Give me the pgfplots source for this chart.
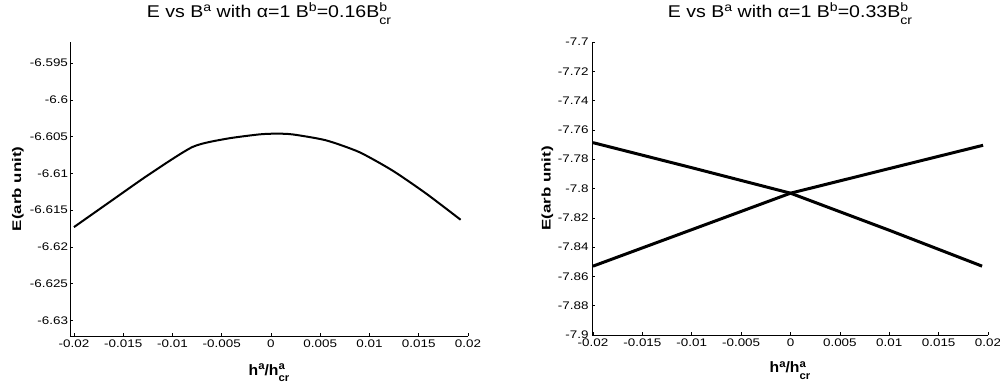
\documentclass[border=0pt]{standalone}
\usepackage{pgfplots}
\pgfplotsset{compat=1.18}
\usepackage{fontspec}
\usepackage{graphicx}
\setmainfont{Liberation Sans}[FakeStretch=1.22]
\newfontfamily\titfont{Liberation Sans}[FakeStretch=1.15]
\newfontfamily\ylfont{Liberation Sans}[FakeStretch=1.35]
\newfontfamily\xlfont{Liberation Sans}[FakeStretch=1.05]
\newcommand\sps[1]{\raisebox{0.36em}{\scalebox{0.72}{#1}}}
\newcommand\sbs[1]{\raisebox{-0.42em}{\scalebox{0.72}{#1}}}
\newcommand\spsb[2]{\rlap{\sps{#1}}\sbs{#2}}
\pgfplotsset{
  myax/.style={
    scale only axis,
    axis x line*=bottom,
    axis y line*=left,
    axis line style={line width=0.8pt,-},
    tick align=inside,
    major tick length=3pt,
    tick style={line width=0.6pt,black},
    ticklabel style={font=\fontsize{11}{12}\selectfont},
    scaled x ticks=false, scaled y ticks=false,
    xtick={-0.02,-0.015,-0.01,-0.005,0,0.005,0.01,0.015,0.02},
    xticklabels={-0.02,-0.015,-0.01,-0.005,0,0.005,0.01,0.015,0.02},
    xlabel={\xlfont\bfseries h\sps{a}/h\spsb{a}{cr}},
    ylabel={\ylfont\bfseries E(arb unit)},
    xlabel style={at={(axis description cs:0.5,0)},anchor=base,font=\fontsize{15}{16}\selectfont},
    ylabel style={at={(axis description cs:0,0.5)},anchor=center,font=\fontsize{12.5}{14}\selectfont},
    title style={at={(axis description cs:0.5,1)},anchor=base,yshift=18.4pt,font=\titfont\fontsize{17}{19}\selectfont},
  }
}
\begin{document}
\begin{tikzpicture}
\useasboundingbox (0,0) rectangle (1000pt,391pt);
\begin{axis}[myax,
  at={(70pt,55pt)}, anchor=south west,
  width=398pt, height=294.3pt,
  xmin=-0.0204, xmax=0.02,
  ymin=-6.6321, ymax=-6.5921,
  ytick={-6.63,-6.625,-6.62,-6.615,-6.61,-6.605,-6.6,-6.595},
  yticklabels={-6.63,-6.625,-6.62,-6.615,-6.61,-6.605,-6.6,-6.595},
  yticklabel style={xshift=1.5pt},
  xlabel style={yshift=-39pt},
  ylabel style={yshift=52pt},
  title={E vs B\sps{a} with α=1 B\sps{b}=0.16B\spsb{b}{cr}},
]
\addplot[black, line width=2pt, smooth, tension=0.4] coordinates {
(-0.02,-6.6173) (-0.01639,-6.6139) (-0.01233,-6.6101) (-0.00795,-6.6064)
(-0.00456,-6.6053) (-0.00119,-6.6047) (0.0005,-6.6046) (0.00219,-6.6047)
(0.00557,-6.6055) (0.00895,-6.6071) (0.01232,-6.6096) (0.01571,-6.6127)
(0.01925,-6.6163)};
\end{axis}
\begin{axis}[myax,
  at={(592pt,56pt)}, anchor=south west,
  width=396pt, height=293pt,
  xmin=-0.0201, xmax=0.02,
  ymin=-7.9, ymax=-7.7,
  ytick={-7.9,-7.88,-7.86,-7.84,-7.82,-7.8,-7.78,-7.76,-7.74,-7.72,-7.7},
  yticklabels={-7.9,-7.88,-7.86,-7.84,-7.82,-7.8,-7.78,-7.76,-7.74,-7.72,-7.7},
  xlabel style={yshift=-37.7pt},
  ylabel style={yshift=44.5pt},
  title={E vs B\sps{a} with α=1 B\sps{b}=0.33B\spsb{b}{cr}},
]
\addplot[black, line width=3pt] coordinates {
(-0.02,-7.7687) (-0.01,-7.7858) (0,-7.8032) (0.01,-7.8285) (0.0194,-7.853)};
\addplot[black, line width=3pt] coordinates {
(-0.02,-7.853) (-0.01,-7.8281) (0,-7.8032) (0.01,-7.7864) (0.0195,-7.7705)};
\end{axis}
\end{tikzpicture}
\end{document}
